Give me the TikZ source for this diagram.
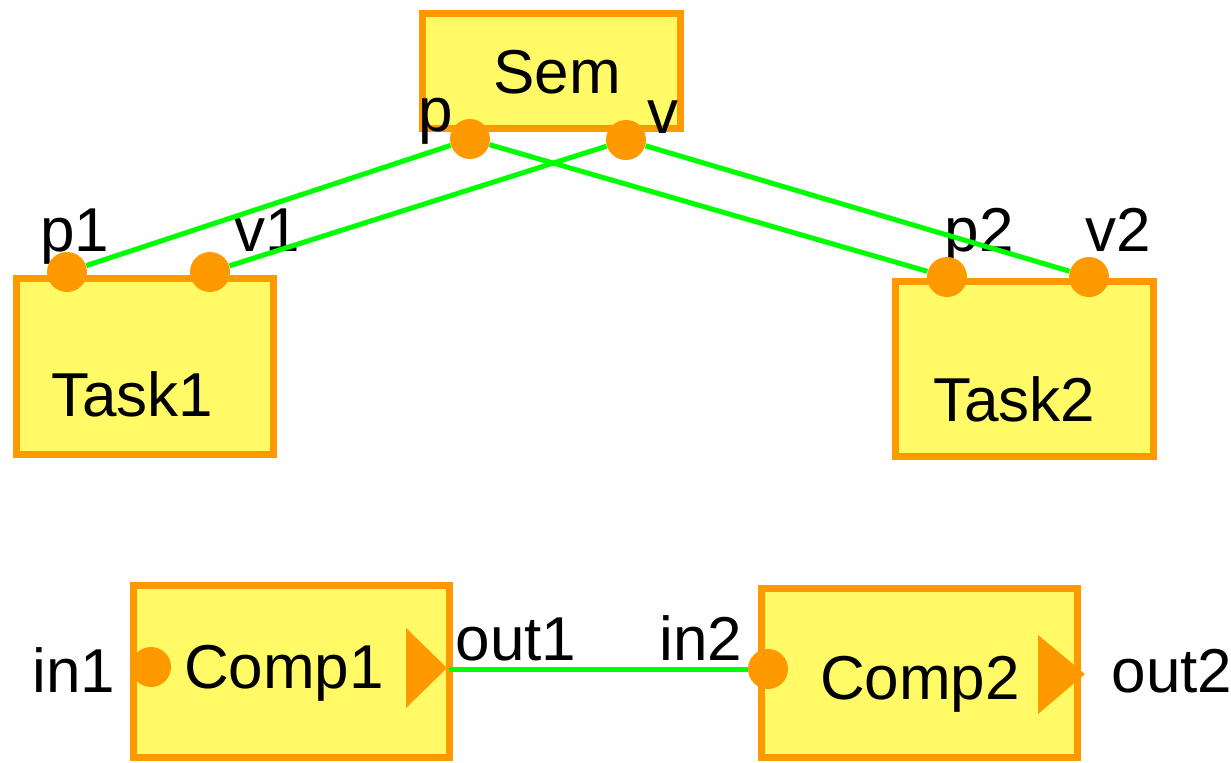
\documentclass[tikz,border=0pt]{standalone}
\usepackage{fontspec}
\setmainfont{Liberation Sans}
\usetikzlibrary{fit}
\definecolor{orng}{RGB}{255,153,0}
\definecolor{yel}{RGB}{255,250,102}
\definecolor{wiregreen}{RGB}{0,255,0}
\tikzset{
  blk/.style={draw=orng, fill=yel, line width=3.5pt, inner sep=0pt},
  port/.style={circle, fill=orng, inner sep=0pt, minimum size=20pt},
  lbl/.style={anchor=base, inner sep=0pt, font=\fontsize{31}{36}\selectfont},
  wire/.style={draw=wiregreen, line width=2.5pt}}

\begin{document}
\begin{tikzpicture}[x=0.5pt, y=-0.5pt]
  \useasboundingbox (0,0) rectangle (1231,762);
  \node[blk, fit={(422,13) (680,128)}] (sem) {};
  \node[blk, fit={(16,278) (273,454)}] (t1) {};
  \node[blk, fit={(895,281) (1153,456)}] (t2) {};
  \node[blk, fit={(133,585) (449,757)}] (c1) {};
  \node[blk, fit={(761,588) (1077,757)}] (c2) {};
  \node[lbl] (semtxt) at (557,93) {Sem};
  \node[lbl] (t1txt) at (132,416) {Task1};
  \node[lbl] (t2txt) at (1014,421) {Task2};
  \node[lbl] (c1txt) at (284,688) {Comp1};
  \node[lbl] (c2txt) at (920,699) {Comp2};
  \node[lbl] (plab) at (436,131) {p};
  \node[lbl] (vlab) at (663,133) {v};
  \node[lbl] (p1lab) at (75,251) {p1};
  \node[lbl] (v1lab) at (267,251) {v1};
  \node[lbl] (p2lab) at (979,251) {p2};
  \node[lbl] (v2lab) at (1118,251) {v2};
  \node[lbl] (i1lab) at (74,692) {in1};
  \node[lbl] (o1lab) at (516,660) {out1};
  \node[lbl] (i2lab) at (701,660) {in2};
  \node[lbl] (o2lab) at (1172,692) {out2};
  % ports
  \node[port] (p) at (470,139) {};
  \node[port] (v) at (626,140) {};
  \node[port] (p1) at (67,272) {};
  \node[port] (v1) at (210,272) {};
  \node[port] (p2) at (947,277) {};
  \node[port] (v2) at (1089,277) {};
  \node[port] (i1) at (151,667) {};
  \node[port] (i2) at (768,669) {};
  \fill[orng] (406,628) -- (447,668) -- (406,708) -- cycle;
  \fill[orng] (1038,635) -- (1085,674) -- (1038,714) -- cycle;
  \coordinate (o1) at (449,669);
  % links
  \draw[wire] (p) -- (p1);
  \draw[wire] (p) -- (p2);
  \draw[wire] (v) -- (v1);
  \draw[wire] (v) -- (v2);
  \draw[wire] (o1) -- (i2);
\end{tikzpicture}
\end{document}
